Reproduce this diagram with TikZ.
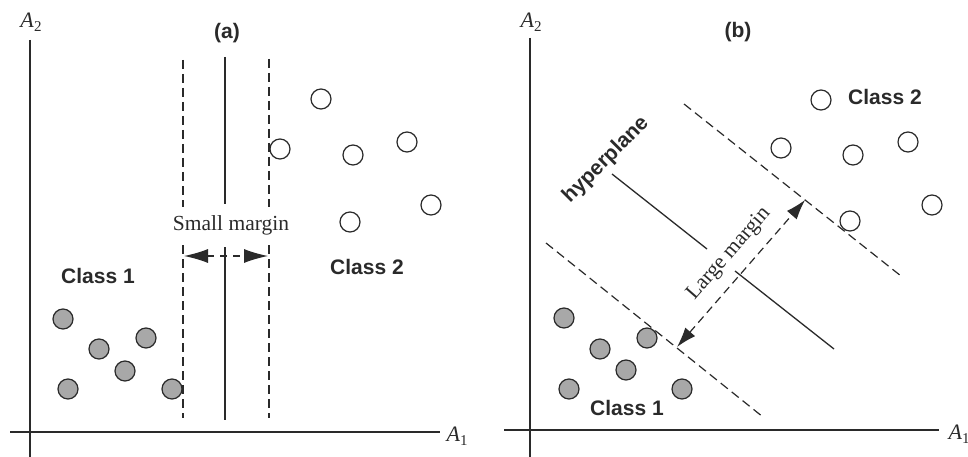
\documentclass[tikz,border=0pt]{standalone}
\usepackage{fontspec}
\setmainfont{Liberation Serif}
\newfontfamily\lblfont{Liberation Sans}
\usetikzlibrary{arrows.meta}
\definecolor{ink}{HTML}{2A2A2A}
\definecolor{dotgray}{HTML}{A8A8A8}
\tikzset{
  axisline/.style={draw=ink, line width=1.3pt},
  sepline/.style={draw=ink, line width=1.3pt},
  dashline/.style={draw=ink, line width=1.2pt, dash pattern=on 9pt off 5pt},
  marginarrowa/.style={draw=ink, line width=1.2pt, dash pattern=on 7pt off 6pt,
     arrows={Latex[length=24pt,width=14pt]-Latex[length=24pt,width=14pt]}},
  marginarrowb/.style={draw=ink, line width=1.2pt, dash pattern=on 8pt off 5pt,
     arrows={Latex[length=20pt,width=13pt]-Latex[length=20pt,width=13pt]}},
  graydot/.style={circle, draw=ink, fill=dotgray, line width=1.2pt, minimum size=20pt, inner sep=0pt},
  whitedot/.style={circle, draw=ink, fill=white, line width=1.2pt, minimum size=20pt, inner sep=0pt},
  boldlbl/.style={font=\lblfont\bfseries\fontsize{21}{24}\selectfont, text=ink, inner sep=0pt},
  seriflbl/.style={font=\fontsize{21.5}{24}\selectfont, text=ink, inner sep=0pt},
  axislbl/.style={font=\fontsize{22}{24}\selectfont, text=ink, inner sep=0pt}
}
\newcommand{\axA}[1]{\textit{A}\raisebox{-0.35ex}{\fontsize{15}{15}\selectfont #1}}
\begin{document}
\begin{tikzpicture}[x=1pt,y=-1pt]
\useasboundingbox (0,0) rectangle (968,457);
\fill[white] (0,0) rectangle (968,457);

% ---------------- panel (a) ----------------
\coordinate (a2top) at (30,40);
\coordinate (a2bot) at (30,457);
\coordinate (a1l) at (10,432);
\coordinate (a1r) at (440,432);
\draw[axisline] (a2top) -- (a2bot);
\draw[axisline] (a1l) -- (a1r);
\node[axislbl] (la2) at (31,22) {\axA{2}};
\node[axislbl] (la1) at (457,436) {\axA{1}};
\node[boldlbl] (ta) at (227,33) {(a)};

\coordinate (dl1) at (183,60);  \coordinate (dl2) at (183,207);
\coordinate (dl3) at (183,245); \coordinate (dl4) at (183,418);
\coordinate (dr1) at (269,59);  \coordinate (dr2) at (269,207);
\coordinate (dr3) at (269,245); \coordinate (dr4) at (269,418);
\coordinate (sl1) at (225,57);  \coordinate (sl2) at (225,204);
\coordinate (sl3) at (225,247); \coordinate (sl4) at (225,420);
\draw[dashline] (dl1) -- (dl2);
\draw[dashline] (dl3) -- (dl4);
\draw[dashline] (dr1) -- (dr2);
\draw[dashline] (dr3) -- (dr4);
\draw[sepline] (sl1) -- (sl2);
\draw[sepline] (sl3) -- (sl4);
\node[seriflbl] (smallm) at (231,225) {Small margin};
\coordinate (sa1) at (184,256);
\coordinate (sa2) at (268,256);
\draw[marginarrowa] (sa1) -- (sa2);

\node[boldlbl] (c1a) at (98,276) {Class 1};
\node[boldlbl] (c2a) at (367,267) {Class 2};

\foreach \p/\q [count=\i] in {63/319, 99/349, 146/338, 125/371, 68/389, 172/389}
  \node[graydot] (ga\i) at (\p,\q) {};
\foreach \p/\q [count=\i] in {321/99, 280/149, 353/155, 407/142, 431/205, 350/222}
  \node[whitedot] (wa\i) at (\p,\q) {};

% ---------------- panel (b) ----------------
\coordinate (b2top) at (530,38);
\coordinate (b2bot) at (530,457);
\coordinate (b1l) at (504,430);
\coordinate (b1r) at (939,430);
\draw[axisline] (b2top) -- (b2bot);
\draw[axisline] (b1l) -- (b1r);
\node[axislbl] (lb2) at (531,22) {\axA{2}};
\node[axislbl] (lb1) at (959,434) {\axA{1}};
\node[boldlbl] (tb) at (738,32) {(b)};

\coordinate (hp1) at (612,174); \coordinate (hp2) at (707,249);
\coordinate (hp3) at (735,271); \coordinate (hp4) at (834,349);
\draw[sepline] (hp1) -- (hp2);
\draw[sepline] (hp3) -- (hp4);
\coordinate (ud1) at (684,104); \coordinate (ud2) at (901,276);
\coordinate (ld1) at (546,243); \coordinate (ld2) at (763,417);
\draw[dashline] (ud1) -- (ud2);
\draw[dashline] (ld1) -- (ld2);

\node[boldlbl, rotate=45] (hyp) at (606,160) {hyperplane};
\node[seriflbl, rotate=49] (largem) at (729,254) {Large margin};
\coordinate (la) at (677,347);
\coordinate (lb) at (805,200);
\draw[marginarrowb] (la) -- (lb);

\node[boldlbl] (c2b) at (885,97) {Class 2};
\node[boldlbl] (c1b) at (627,408) {Class 1};

\foreach \p/\q [count=\i] in {564/318, 600/349, 647/338, 626/370, 569/389, 682/389}
  \node[graydot] (gb\i) at (\p,\q) {};
\foreach \p/\q [count=\i] in {821/100, 781/148, 853/155, 908/142, 932/205, 850/221}
  \node[whitedot] (wb\i) at (\p,\q) {};
\end{tikzpicture}
\end{document}
